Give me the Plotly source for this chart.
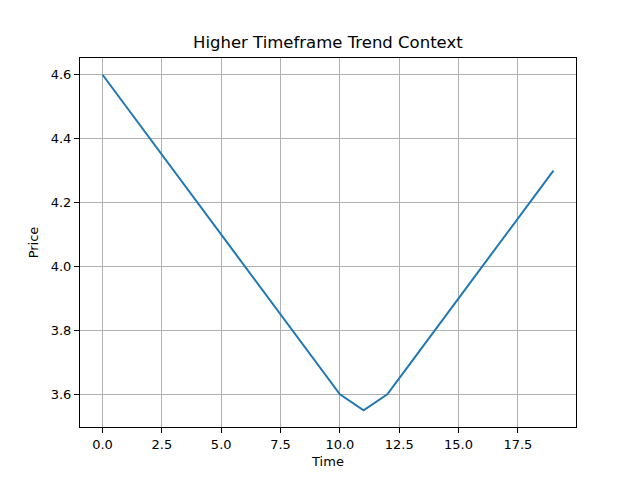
import plotly.graph_objects as go

# dados
tempo = list(range(20))
preco = [4.6, 4.5, 4.4, 4.3, 4.2, 4.1, 4.0, 3.9, 3.8, 3.7, 3.6,
         3.55, 3.6, 3.7, 3.8, 3.9, 4.0, 4.1, 4.2, 4.3]

x_ticks = [0, 2.5, 5, 7.5, 10, 12.5, 15, 17.5]
y_ticks = [3.6, 3.8, 4.0, 4.2, 4.4, 4.6]

fig = go.Figure()
fig.add_trace(go.Scatter(x=tempo, y=preco, mode="lines",
                         line=dict(color="#1f77b4", width=2)))

eixo = dict(showline=True, mirror=True, linecolor="black", linewidth=1,
            showgrid=True, gridcolor="#b0b0b0", gridwidth=1,
            ticks="outside", ticklen=5, tickcolor="black", zeroline=False,
            tickfont=dict(size=13, color="black"))

fig.update_layout(
    width=640, height=480,
    margin=dict(l=80, r=64, t=58, b=53),
    paper_bgcolor="white", plot_bgcolor="white",
    font=dict(family="DejaVu Sans", color="black"),
    showlegend=False,
    xaxis=dict(eixo, range=[-0.95, 19.95], tickvals=x_ticks,
               ticktext=[f"{v:.1f}" for v in x_ticks],
               title=dict(text="Time", font=dict(size=13), standoff=6)),
    yaxis=dict(eixo, range=[3.4975, 4.6525], tickvals=y_ticks,
               ticktext=[f"{v:.1f}" for v in y_ticks],
               title=dict(text="Price", font=dict(size=13), standoff=9)),
    annotations=[dict(text="Higher Timeframe Trend Context", x=0.5, y=1,
                      xref="paper", yref="paper", xanchor="center",
                      yanchor="bottom", yshift=4, showarrow=False,
                      font=dict(size=16.5))],
)

# tira a margem padrão da página e a barra de ferramentas
fig.write_html("out.html", config={"displayModeBar": False},
               post_script="document.body.style.margin='0';")
